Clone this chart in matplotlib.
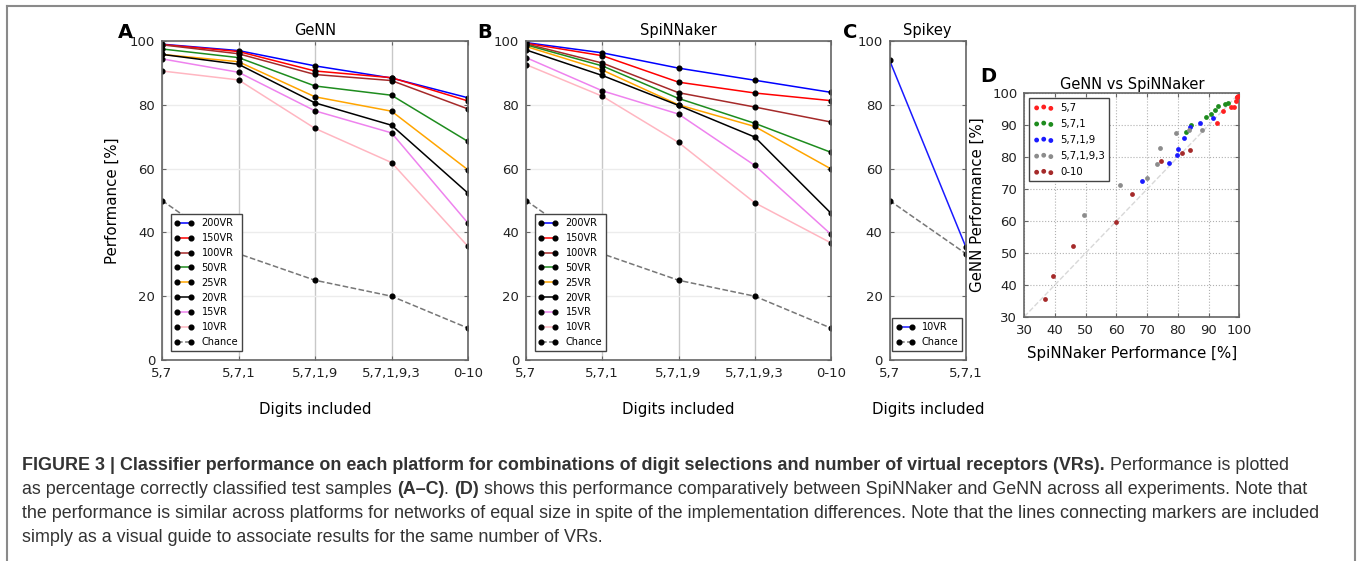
import matplotlib
matplotlib.use('Agg')
import matplotlib.pyplot as plt
from matplotlib.lines import Line2D
from matplotlib.text import Annotation

W, H = 1358, 561

DIGITS = ['5,7', '5,7,1', '5,7,1,9', '5,7,1,9,3', '0-10']
VRS = ['200VR', '150VR', '100VR', '50VR', '25VR', '20VR', '15VR', '10VR']
VR_COLORS = ['#0000ff', '#ff0000', '#a52a2a', '#1e8c1e', '#ffa500', '#000000', '#ee82ee', '#ffb6c1']

# GeNN performance [%] per VR count, over DIGITS
genn_200 = [99.0, 97.0, 92.2, 88.4, 82.2]
genn_150 = [98.9, 96.7, 90.6, 88.5, 81.2]
genn_100 = [98.8, 96.0, 89.5, 87.6, 78.7]
genn_50 = [97.5, 94.8, 85.9, 83.0, 68.5]
genn_25 = [95.8, 93.5, 82.5, 78.0, 59.6]
genn_20 = [95.8, 92.7, 80.6, 73.6, 52.3]
genn_15 = [94.4, 90.2, 78.1, 71.2, 42.9]
genn_10 = [90.6, 87.8, 72.6, 61.9, 35.6]

# SpiNNaker performance [%]
spin_200 = [99.5, 96.3, 91.5, 87.7, 83.9]
spin_150 = [99.3, 95.4, 87.1, 83.7, 81.3]
spin_100 = [99.1, 93.1, 83.8, 79.3, 74.6]
spin_50 = [98.8, 92.2, 82.0, 74.2, 65.1]
spin_25 = [98.3, 90.9, 80.0, 73.2, 59.9]
spin_20 = [97.2, 89.2, 79.8, 69.9, 46.0]
spin_15 = [94.8, 84.4, 77.1, 61.0, 39.4]
spin_10 = [92.6, 82.7, 68.2, 49.3, 36.7]

chance = [50.0, 33.3, 25.0, 20.0, 10.0]

# Spikey
SPIKEY_DIGITS = ['5,7', '5,7,1']
spikey_10 = [94.0, 35.3]
spikey_chance = [50.0, 33.3]

DIGIT_COLORS = ['#ff2020', '#1e8c1e', '#1a1aff', '#8c8c8c', '#a52a2a']

GENN = [genn_200, genn_150, genn_100, genn_50, genn_25, genn_20, genn_15, genn_10]
SPIN = [spin_200, spin_150, spin_100, spin_50, spin_25, spin_20, spin_15, spin_10]

plt.rcParams['font.family'] = 'DejaVu Sans'

fig = plt.figure(figsize=(W / 100, H / 100), dpi=100)


def px_axes(l, t, r, b):
    return fig.add_axes([l / W, 1 - b / H, (r - l) / W, (b - t) / H])


def style_axes(ax):
    for s in ax.spines.values():
        s.set_color('#666666')
        s.set_linewidth(1.2)
    ax.tick_params(direction='in', length=3, color='#666666', labelsize=9.5,
                   labelcolor='#222222', top=True, right=True, pad=5)


def style_legend(leg):
    leg.get_frame().set_edgecolor('#444444')
    leg.get_frame().set_linewidth(1.0)


def perf_panel(ax, data, title, ylabel=False):
    x = range(len(DIGITS))
    ax.xaxis.grid(True, color='#c8c8c8', lw=1)
    ax.yaxis.grid(True, color='#ececec', lw=1)
    ax.set_axisbelow(True)
    for vals, lab, col in zip(data, VRS, VR_COLORS):
        ax.plot(x, vals, '-o', color=col, lw=1.1, ms=3.4, mfc='k', mec='k', label=lab)
    ax.plot(x, chance, '--o', color='#777777', lw=1.1, ms=3.4, mfc='k', mec='k', label='Chance')
    ax.set_xlim(0, len(DIGITS) - 1)
    ax.set_ylim(0, 100)
    ax.set_xticks(list(x))
    ax.set_xticklabels(DIGITS)
    ax.set_yticks(range(0, 101, 20))
    ax.set_title(title, fontsize=10.5, pad=4)
    ax.set_xlabel('Digits included', fontsize=10.8, labelpad=16)
    if ylabel:
        ax.set_ylabel('Performance [%]', fontsize=10.8, labelpad=7)
    style_axes(ax)
    leg = ax.legend(loc='lower left', bbox_to_anchor=(0.028, 0.028), borderaxespad=0,
                    fontsize=7, handlelength=2.0, labelspacing=0.5, numpoints=2,
                    fancybox=False, framealpha=1, borderpad=0.4, handletextpad=0.8)
    style_legend(leg)


axA = px_axes(162, 41, 468, 360)
perf_panel(axA, GENN, 'GeNN', ylabel=True)

axB = px_axes(526, 41, 831, 360)
perf_panel(axB, SPIN, 'SpiNNaker')

# Spikey panel
axC = px_axes(889.5, 41, 966, 360)
xc = range(len(SPIKEY_DIGITS))
axC.xaxis.grid(True, color='#c8c8c8', lw=1)
axC.yaxis.grid(True, color='#ececec', lw=1)
axC.set_axisbelow(True)
axC.plot(xc, spikey_10, '-o', color='#1a1aff', lw=1.1, ms=3.4, mfc='k', mec='k', label='10VR')
axC.plot(xc, spikey_chance, '--o', color='#777777', lw=1.1, ms=3.4, mfc='k', mec='k', label='Chance')
axC.set_xlim(0, 1)
axC.set_ylim(0, 100)
axC.set_xticks(list(xc))
axC.set_xticklabels(SPIKEY_DIGITS)
axC.set_yticks(range(0, 101, 20))
axC.set_title('Spikey', fontsize=10.5, pad=4)
axC.set_xlabel('Digits included', fontsize=10.8, labelpad=16)
style_axes(axC)
legC = axC.legend(loc='lower left', bbox_to_anchor=(0.03, 0.028), borderaxespad=0,
                  fontsize=7, handlelength=2.0, labelspacing=0.5, numpoints=2,
                  fancybox=False, framealpha=1, borderpad=0.4, handletextpad=0.7)
style_legend(legC)

# GeNN vs SpiNNaker scatter
axD = px_axes(1024.3, 93.3, 1239.3, 316.7)
axD.grid(True, color='#b0b0b0', lw=0.8, ls=':')
axD.set_axisbelow(True)
axD.plot([30, 100], [30, 100], '--', color='#d8d8d8', lw=1, zorder=1)
for i, (lab, col) in enumerate(zip(DIGITS, DIGIT_COLORS)):
    xs = [s[i] for s in SPIN]
    ys = [g[i] for g in GENN]
    axD.scatter(xs, ys, s=12, color=col, linewidths=0, label=lab, zorder=3)
axD.set_xlim(30, 100)
axD.set_ylim(30, 100)
axD.set_xticks(range(30, 101, 10))
axD.set_yticks(range(30, 101, 10))
axD.set_title('GeNN vs SpiNNaker', fontsize=10.5, pad=3)
axD.set_xlabel('SpiNNaker Performance [%]', fontsize=10.8, labelpad=7)
axD.set_ylabel('GeNN Performance [%]', fontsize=10.8, labelpad=5)
style_axes(axD)
legD = axD.legend(loc='upper left', bbox_to_anchor=(0.022, 0.979), borderaxespad=0,
                  fontsize=7.3, scatterpoints=3, labelspacing=0.6, handlelength=2.0,
                  fancybox=False, framealpha=1, borderpad=0.45, handletextpad=0.6)
style_legend(legD)

# panel letters
for letter, (lx, ly) in zip('ABCD', [(125, 33), (485, 33), (850, 33), (988, 76)]):
    fig.text(lx / W, 1 - ly / H, letter, fontsize=14, weight='bold', ha='center', va='center')

# outer frame
fr = dict(transform=fig.transFigure, color='#8a8a8a', lw=1.5)
fig.add_artist(Line2D([7 / W, 7 / W], [0, 1 - 6 / H], **fr))
fig.add_artist(Line2D([7 / W, 1355 / W], [1 - 6 / H, 1 - 6 / H], **fr))
fig.add_artist(Line2D([1355 / W, 1355 / W], [0, 1 - 6 / H], **fr))

# caption, bold and normal runs chained one after the other
cap = dict(family='Liberation Sans', fontsize=12.9, color='#333333')
x0 = 22 / W


def chain_line(parts, y):
    prev = None
    for txt, bold in parts:
        w = 'bold' if bold else 'normal'
        if prev is None:
            prev = fig.text(x0, 1 - y / H, txt, weight=w, va='baseline', ha='left', **cap)
        else:
            prev = fig.add_artist(Annotation(txt, xy=(1, 0), xycoords=prev, va='bottom',
                                             ha='left', weight=w, **cap))


chain_line([('FIGURE 3 | Classifier performance on each platform for combinations of digit '
             'selections and number of virtual receptors (VRs).', True),
            (' Performance is plotted', False)], 470)
chain_line([('as percentage correctly classified test samples ', False), ('(A\u2013C)', True),
            ('. ', False), ('(D)', True),
            (' shows this performance comparatively between SpiNNaker and GeNN across all '
             'experiments. Note that', False)], 494)
chain_line([('the performance is similar across platforms for networks of equal size in spite of '
             'the implementation differences. Note that the lines connecting markers are included',
             False)], 518)
chain_line([('simply as a visual guide to associate results for the same number of VRs.', False)], 542)

fig.savefig('out.png', dpi=100, facecolor='white')
